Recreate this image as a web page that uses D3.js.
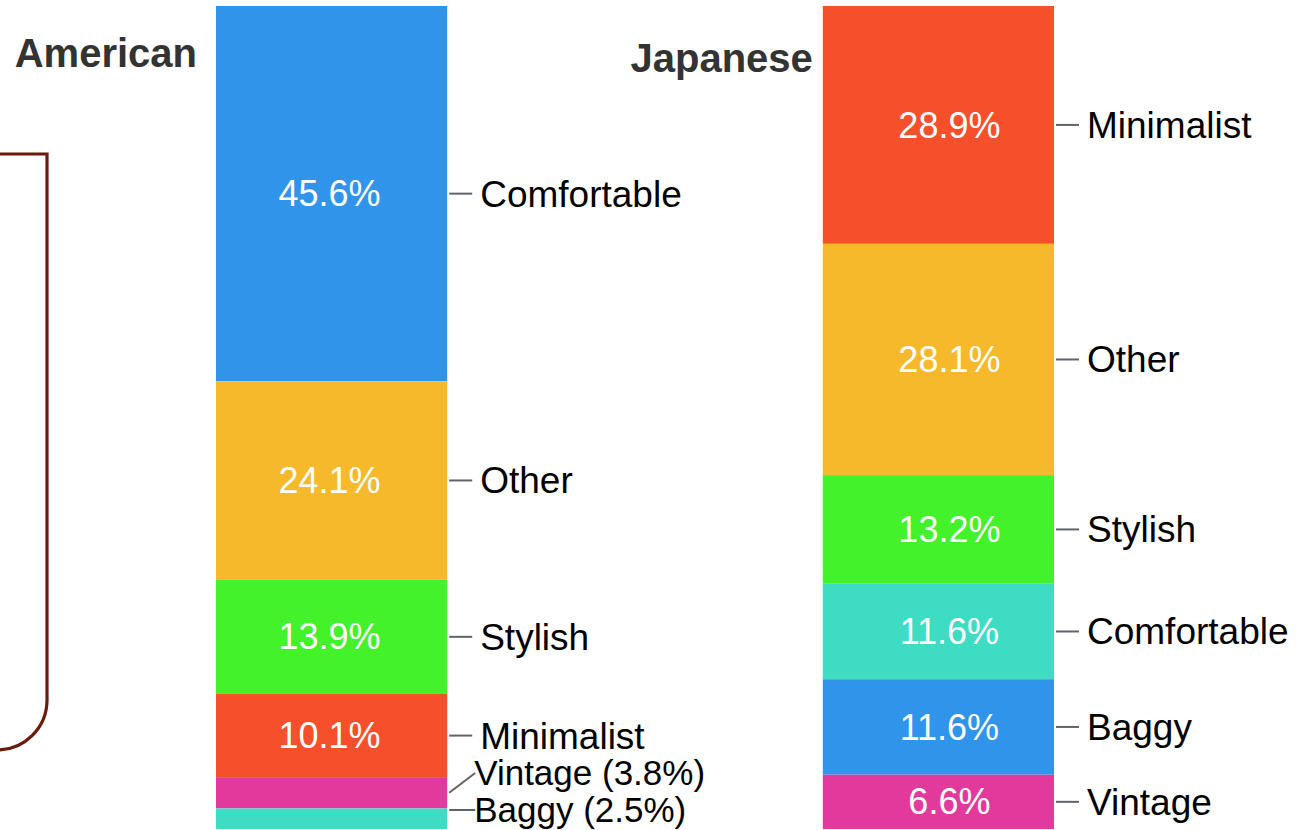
<!DOCTYPE html>
<html>
<head>
<meta charset="utf-8">
<script src="https://cdn.jsdelivr.net/npm/d3@7"></script>
<style>
  html, body { margin: 0; padding: 0; background: #ffffff; }
  svg { display: block; }
</style>
</head>
<body>
<svg id="chart" width="1303" height="830"></svg>
<script>
// ---- data ----
const groups = ["American", "Japanese"];
const americanCategories = ["Comfortable", "Other", "Stylish", "Minimalist", "Vintage", "Baggy"];
const americanValues = [45.6, 24.1, 13.9, 10.1, 3.8, 2.5];
const americanColors = ["#3095ea", "#f6b92c", "#43f22a", "#f64f2c", "#e23a9c", "#3edcc3"];
const japaneseCategories = ["Minimalist", "Other", "Stylish", "Comfortable", "Baggy", "Vintage"];
const japaneseValues = [28.9, 28.1, 13.2, 11.6, 11.6, 6.6];
const japaneseColors = ["#f64f2c", "#f6b92c", "#43f22a", "#3edcc3", "#3095ea", "#e23a9c"];

const series = [
  { name: groups[0], cats: americanCategories, vals: americanValues, cols: americanColors },
  { name: groups[1], cats: japaneseCategories, vals: japaneseValues, cols: japaneseColors }
];

// layout (per group)
const layout = {
  American: { titleGap: 19, titleY: 67, pctShift: -2 },
  Japanese: { titleGap: 10, titleY: 72, pctShift: 11 }
};

const svg = d3.select("#chart");
const FONT = "'Liberation Sans', Arial, Helvetica, sans-serif";

const x = d3.scaleBand().domain(groups).range([216, 1054]).paddingInner(0.619).paddingOuter(0);
const y = d3.scaleLinear().domain([0, 100]).range([6, 829]);

// decorative dark red frame on the left
const frame = d3.path();
frame.moveTo(-5, 154);
frame.lineTo(47, 154);
frame.lineTo(47, 700);
frame.arcTo(47, 750, -3, 750, 50);
svg.append("path").attr("d", frame.toString())
  .attr("fill", "none").attr("stroke", "#6b1a0c").attr("stroke-width", 3.2);

series.forEach(s => {
  const L = layout[s.name];
  const g = svg.append("g");
  const x0 = x(s.name), bw = x.bandwidth();
  let acc = 0;
  const segs = s.vals.map((v, i) => {
    const d = { cat: s.cats[i], v, col: s.cols[i], y0: acc, y1: acc + v };
    acc += v;
    return d;
  });

  g.selectAll("rect").data(segs).enter().append("rect")
    .attr("x", x0).attr("width", bw)
    .attr("y", d => y(d.y0)).attr("height", d => y(d.y1) - y(d.y0))
    .attr("fill", d => d.col);

  // inner percentage labels
  g.selectAll("text.pct").data(segs.filter(d => d.v >= 5)).enter().append("text")
    .attr("class", "pct")
    .attr("x", x0 + bw / 2 + L.pctShift)
    .attr("y", d => (y(d.y0) + y(d.y1)) / 2)
    .attr("dy", "0.35em")
    .attr("text-anchor", "middle")
    .attr("fill", "#ffffff")
    .style("font-family", FONT).style("font-size", "36px")
    .text(d => d.v.toFixed(1) + "%");

  // outside labels with simple collision avoidance from the bottom up
  const centers = segs.map(d => (y(d.y0) + y(d.y1)) / 2);
  const ly = centers.slice();
  const maxY = 810, gap = 37;
  for (let i = ly.length - 1; i >= 0; i--) {
    if (i === ly.length - 1) ly[i] = Math.min(ly[i], maxY);
    else ly[i] = Math.min(ly[i], ly[i + 1] - gap);
  }
  const xr = x0 + bw;
  segs.forEach((d, i) => {
    const top = y(d.y0), bot = y(d.y1);
    const startY = (ly[i] >= top && ly[i] <= bot) ? ly[i] : centers[i];
    const small = d.v < 5;
    g.append("line")
      .attr("x1", xr + 2).attr("y1", startY)
      .attr("x2", xr + (small ? 28 : 25)).attr("y2", ly[i])
      .attr("stroke", "#5f6368").attr("stroke-width", 2);
    g.append("text")
      .attr("x", xr + (small ? 27 : 33)).attr("y", ly[i]).attr("dy", "0.35em")
      .attr("fill", "#000000")
      .style("font-family", FONT).style("font-size", small ? "35px" : "37px")
      .text(small ? d.cat + " (" + d.v.toFixed(1) + "%)" : d.cat);
  });

  // title
  svg.append("text")
    .attr("x", x0 - L.titleGap).attr("y", L.titleY)
    .attr("text-anchor", "end")
    .attr("fill", "#333333")
    .style("font-family", FONT).style("font-size", "40px").style("font-weight", "bold")
    .text(s.name);
});
</script>
</body>
</html>
